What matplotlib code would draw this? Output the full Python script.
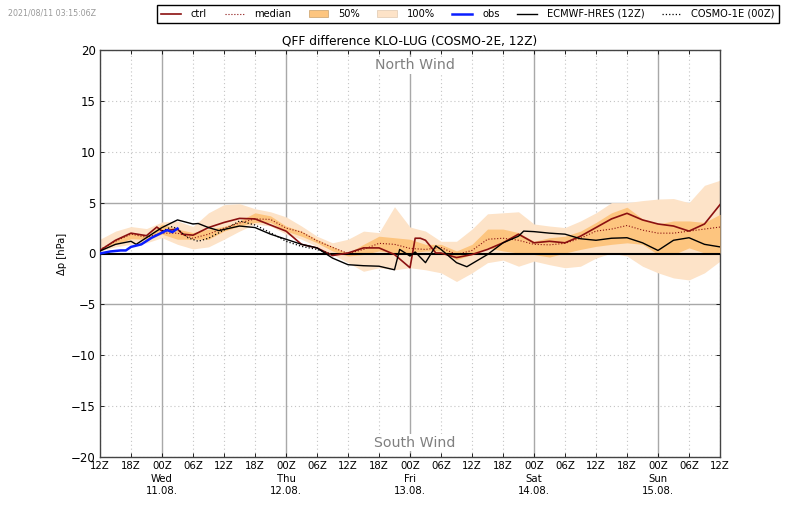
"""QFF difference KLO-LUG ensemble plume, COSMO-2E."""

import matplotlib
matplotlib.use("Agg")

import matplotlib.pyplot as plt
from matplotlib.lines import Line2D
from matplotlib.patches import Patch

# 3-hourly ensemble stats
HOURS = list(range(0, 123, 3))
P100_HI = [1.4, 2.2, 2.65, 2.45, 3.1, 3.2, 2.65, 4.0, 4.8, 4.9, 4.4, 4.1, 3.6, 2.7, 1.7, 1.05,
           1.4, 2.2, 2.05, 4.6, 2.6, 2.2, 1.2, 1.2, 2.4, 3.9, 4.0, 4.1, 2.9, 2.7, 2.55,
           3.2, 4.0, 5.0, 5.0, 5.2, 5.35, 5.4, 5.0, 6.7, 7.2]
P100_LO = [0.25, 0.65, 0.9, 1.05, 1.55, 0.9, 0.45, 0.65, 1.4, 2.2, 2.9, 2.7, 1.9, 1.4, 0.7, -0.1,
           -0.9, -1.75, -1.4, -1.6, -1.4, -1.6, -1.9, -2.75, -1.9, -0.9, -0.65, -1.25, -0.75, -1.1, -1.4,
           -1.25, -0.45, 0.05, -0.25, -1.25, -1.9, -2.4, -2.6, -1.9, -0.75]
P50_HI = [0.45, 1.4, 2.05, 1.7, 2.9, 2.4, 2.05, 2.4, 2.65, 3.2, 4.0, 3.7, 2.7, 2.2, 1.4, 0.7,
          0.05, 0.9, 1.7, 1.55, 1.4, 0.9, 0.9, 0.25, 0.9, 2.4, 2.4, 2.05, 1.2, 1.55, 1.7,
          2.2, 3.05, 4.0, 4.55, 3.4, 2.9, 3.2, 3.2, 3.05, 3.85]
P50_LO = [0.25, 0.9, 1.45, 1.4, 1.9, 1.4, 1.4, 1.4, 2.2, 2.7, 3.05, 3.05, 2.2, 1.7, 1.05, 0.25,
          -0.25, -0.1, 0.25, 0.05, 0.05, 0.25, 0.25, -0.6, -0.1, 0.55, 0.25, 0.05, -0.1, -0.35, 0.05,
          0.4, 0.7, 0.9, 1.05, 0.9, -0.1, -0.1, 0.55, 0.05, 0.05]
MEDIAN = [0.4, 1.2, 1.9, 1.6, 2.0, 2.0, 1.5, 1.9, 2.5, 3.0, 3.4, 3.35, 2.5, 2.1, 1.25, 0.6,
          0.0, 0.4, 1.0, 0.9, 0.5, 0.4, 0.6, -0.1, 0.3, 1.4, 1.5, 1.3, 0.9, 0.85, 1.0,
          1.5, 2.2, 2.4, 2.75, 2.3, 2.0, 2.0, 2.2, 2.4, 2.6]

CTRL_H = [0, 3, 6, 9, 11, 12, 15, 16, 18, 21, 24, 27, 30, 33, 36, 39, 42, 45, 48, 51, 54, 57, 60, 61, 62,
          63, 65, 66, 69, 72, 75, 78, 81, 84, 87, 90, 93, 96, 99, 102, 105, 108, 111, 114, 117, 120]
CTRL = [0.3, 1.3, 2.0, 1.75, 2.6, 2.2, 2.4, 1.9, 1.8, 2.55, 3.05, 3.45, 3.4, 2.8, 2.2, 0.9, 0.55, -0.2, 0.05,
        0.55, 0.55, -0.1, -1.4, 1.5, 1.5, 1.3, 0.05, 0.05, -0.4, -0.1, 0.4, 1.05, 1.9, 1.05, 1.2, 1.05,
        1.7, 2.55, 3.4, 3.95, 3.3, 2.9, 2.7, 2.2, 2.9, 4.8]

OBS_H = [0, 2, 4, 5, 6, 8, 10, 13, 14, 15]
OBS = [0.0, 0.2, 0.3, 0.3, 0.65, 0.9, 1.55, 2.3, 2.1, 2.45]

HRES_H = [0, 3, 6, 7, 12, 15, 18, 19, 21, 23, 27, 30, 33, 36, 39, 42, 45, 48, 51, 54, 57, 58, 60, 61,
          63, 65, 66, 69, 71, 75, 78, 81, 82, 84, 87, 90, 93, 96, 99, 102, 105, 108, 111, 114, 117, 120]
HRES = [0.25, 0.9, 1.2, 0.9, 2.55, 3.3, 2.9, 2.95, 2.55, 2.25, 2.7, 2.55, 1.9, 1.4, 0.9, 0.55, -0.45, -1.1,
        -1.2, -1.25, -1.6, 0.4, -0.25, 0.15, -0.9, 0.75, 0.4, -0.9, -1.3, -0.1, 1.05, 1.7, 2.2, 2.15,
        2.0, 1.9, 1.45, 1.3, 1.5, 1.55, 1.05, 0.3, 1.3, 1.55, 0.9, 0.65]

C1E_H = [12, 14, 15, 17, 19, 21, 24, 27, 30, 33, 36, 39, 42, 45]
C1E = [2.2, 2.65, 2.4, 1.55, 1.2, 1.5, 2.3, 3.2, 2.8, 2.05, 1.2, 0.7, 0.4, -0.1]

XTICKS = list(range(0, 121, 6))
XLABELS = ["12Z", "18Z", "00Z\nWed\n11.08.", "06Z", "12Z", "18Z", "00Z\nThu\n12.08.", "06Z",
           "12Z", "18Z", "00Z\nFri\n13.08.", "06Z", "12Z", "18Z", "00Z\nSat\n14.08.", "06Z",
           "12Z", "18Z", "00Z\nSun\n15.08.", "06Z", "12Z"]
YTICKS = list(range(-20, 21, 5))
YLABELS = ["\u221220", "\u221215", "\u221210", "\u22125", "0", "5", "10", "15", "20"]

RED = "#8b1010"
BLUE = "#0a1eff"
BAND50 = "#fdc57f"
BAND100 = "#fde3c8"
GRID = "#a8a8a8"
GRID_DOT = "#c4c4c4"
DOTS = (0, (1, 2.5))

fig = plt.figure(figsize=(8.0, 5.09), dpi=100, facecolor="white")
ax = fig.add_axes([100 / 800, 1 - 457 / 509, 620 / 800, 407 / 509])

ax.fill_between(HOURS, P100_LO, P100_HI, color=BAND100, lw=0, zorder=2)
ax.fill_between(HOURS, P50_LO, P50_HI, color=BAND50, lw=0, zorder=3)
ax.plot(HOURS, MEDIAN, color=RED, lw=0.8, ls=":", zorder=4)
ax.plot(CTRL_H, CTRL, color=RED, lw=1.2, zorder=5)
ax.plot(HRES_H, HRES, color="black", lw=1.0, zorder=5)
ax.plot(C1E_H, C1E, color="black", lw=0.9, ls=":", zorder=5)
ax.plot(OBS_H, OBS, color=BLUE, lw=1.8, zorder=6)
ax.axhline(0, color="black", lw=1.5, zorder=4)

ax.set_xlim(0, 120)
ax.set_ylim(-20, 20)
ax.set_xticks(XTICKS)
ax.set_xticklabels(XLABELS, fontsize=7.3, linespacing=1.3)
ax.set_yticks(YTICKS)
ax.set_yticklabels(YLABELS, fontsize=8.5)
ax.tick_params(direction="in", length=3, width=0.6, top=True, right=True, pad=3)

# gridlines: solid at midnight and at +-5, dotted otherwise
for t in XTICKS:
    if t % 24 == 12:
        ax.axvline(t, color=GRID, lw=1.0, zorder=1)
    else:
        ax.axvline(t, color=GRID_DOT, lw=0.8, ls=DOTS, zorder=1)
for v in YTICKS:
    if abs(v) == 5:
        ax.axhline(v, color=GRID, lw=1.0, zorder=1)
    elif v != 0:
        ax.axhline(v, color=GRID_DOT, lw=0.8, ls=DOTS, zorder=1)

for spine in ax.spines.values():
    spine.set_color("#444444")
    spine.set_linewidth(1.0)

ax.set_title("QFF difference KLO-LUG (COSMO-2E, 12Z)", fontsize=8.7, pad=4)
ax.set_ylabel("\u0394p [hPa]", fontsize=7.2, labelpad=3)
ax.text(61, 18.5, "North Wind", ha="center", va="center", color="#808080", fontsize=10.2,
        bbox=dict(fc="white", ec="none", pad=1), zorder=7)
ax.text(61, -18.6, "South Wind", ha="center", va="center", color="#808080", fontsize=10.2,
        bbox=dict(fc="white", ec="none", pad=1), zorder=7)

fig.text(8 / 800, 1 - 12.5 / 509, "2021/08/11 03:15:06Z", color="#999999", fontsize=5.7, va="center")

handles = [
    Line2D([], [], color=RED, lw=1.2),
    Line2D([], [], color=RED, lw=0.8, ls=":"),
    Patch(fc=BAND50, ec="#c9a06a", lw=0.5),
    Patch(fc=BAND100, ec="#e0c8b0", lw=0.5),
    Line2D([], [], color=BLUE, lw=1.8),
    Line2D([], [], color="black", lw=1.0),
    Line2D([], [], color="black", lw=0.9, ls=":"),
]
labels = ["ctrl", "median", "50%", "100%", "obs", "ECMWF-HRES (12Z)", "COSMO-1E (00Z)"]
fig.legend(handles, labels, ncol=7, fontsize=7.1, loc="center", bbox_to_anchor=(468 / 800, 1 - 14 / 509),
           fancybox=False, edgecolor="black", framealpha=1, borderpad=0.4, handlelength=2.0,
           columnspacing=1.77, handletextpad=1.0, borderaxespad=0)

fig.savefig("out.png", dpi=100, facecolor="white")
plt.close(fig)
